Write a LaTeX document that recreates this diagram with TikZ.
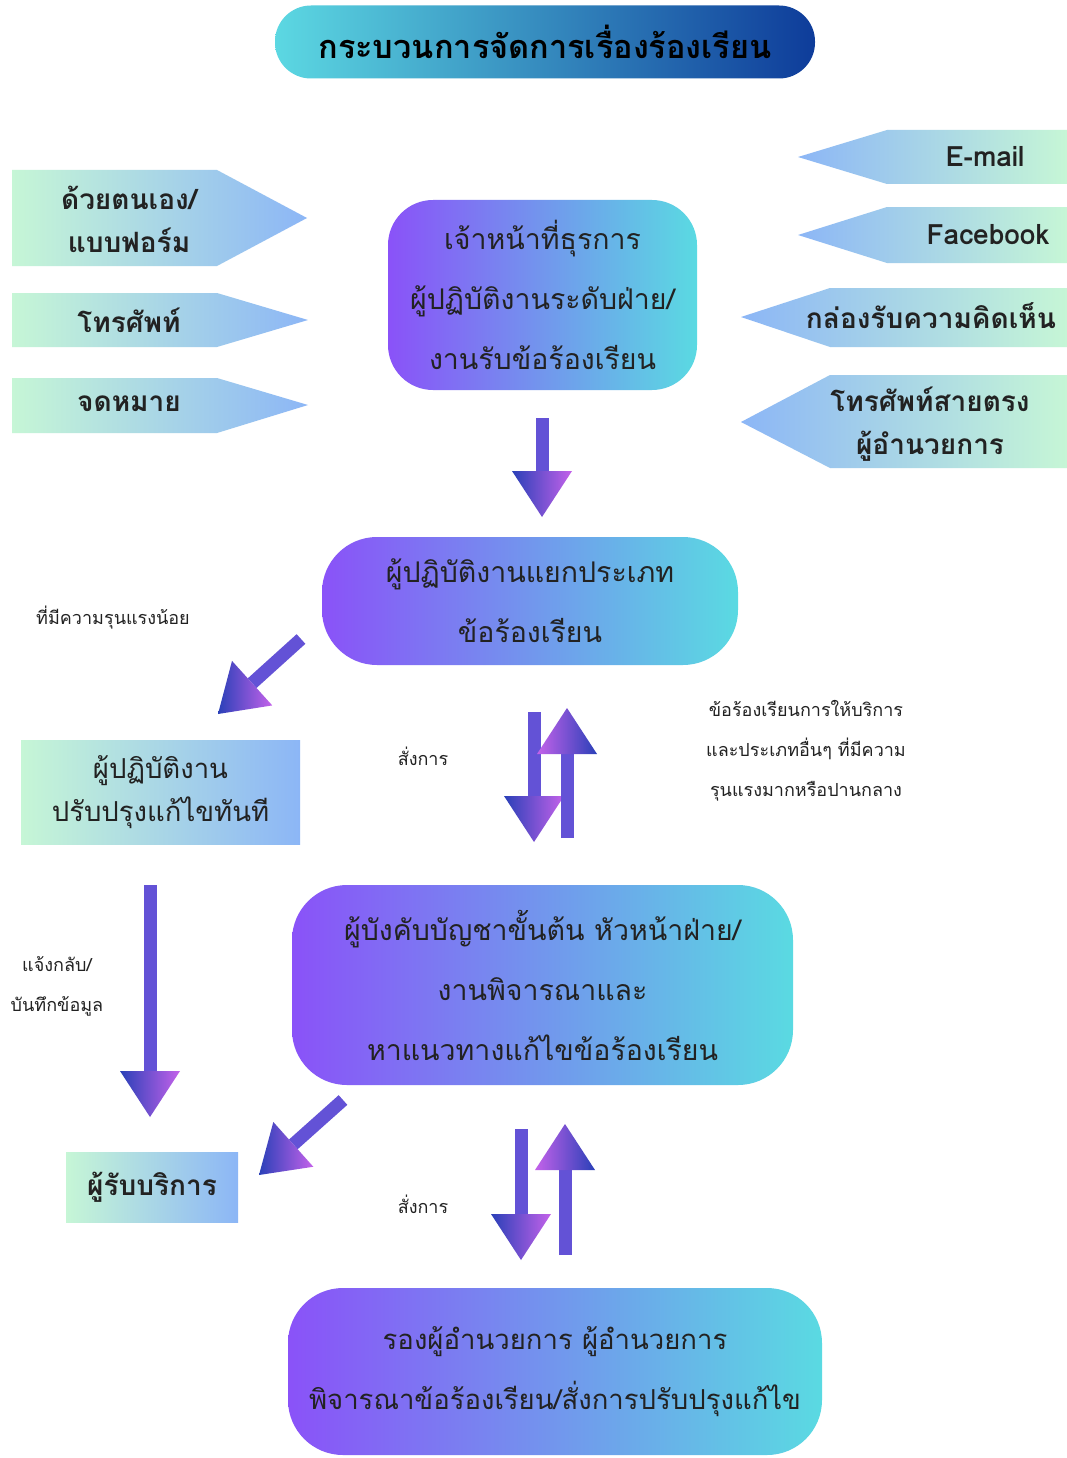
\documentclass[tikz,border=0pt]{standalone}
\usepackage{fontspec}
\usetikzlibrary{calc}
\newfontfamily\thai[Script=Thai]{Loma}
\definecolor{tagL}{HTML}{C6F6D6}
\definecolor{tagR}{HTML}{8CB6F6}
\definecolor{boxL}{HTML}{8A52F8}
\definecolor{boxR}{HTML}{5ADAE2}
\definecolor{titL}{HTML}{5CD8E2}
\definecolor{titR}{HTML}{0E3C9A}
\definecolor{shaftcol}{HTML}{6352D6}
\definecolor{headB}{HTML}{2A40B8}
\definecolor{headM}{HTML}{C462EA}
\definecolor{txt}{HTML}{222222}
\tikzset{
  roundbox/.style={rectangle, rounded corners=#1, left color=boxL, right color=boxR, inner sep=0pt, align=center, text=txt,
    font={\thai\fontsize{28.5}{60}\selectfont}},
  sqbox/.style={rectangle, left color=tagL, right color=tagR, inner sep=0pt, align=center, text=txt},
  tagtext/.style={align=center, inner sep=0pt, text=txt, font={\thai\bfseries\fontsize{28}{43}\selectfont}},
  small/.style={align=center, inner sep=0pt, text=txt, font={\thai\fontsize{18}{40}\selectfont}}
}
\newcommand\blockarrow[4]{%
  \coordinate (ba-base) at ($(#2)!46pt!(#1)$);
  \draw[line width=13pt, draw=shaftcol] (#1) -- (ba-base);
  \shade[left color=#3, right color=#4] (#2) -- ($(ba-base)!30pt!90:(#2)$) -- ($(ba-base)!30pt!-90:(#2)$) -- cycle;
}
\begin{document}
\begin{tikzpicture}[x=1pt, y=-1pt]
\useasboundingbox (0,0) rectangle (1067,1458);
\fill[white] (0,0) rectangle (1067,1458);

% title
\node[rectangle, rounded corners=36pt, left color=titL, right color=titR, minimum width=540pt, minimum height=73pt, inner sep=0pt,
  font={\thai\bfseries\fontsize{32.5}{38}\selectfont}, text=black] (title) at (545,42) {กระบวนการจัดการเรื่องร้องเรียน};

% left tags
\shade[left color=tagL, right color=tagR] (12,170) -- (217,170) -- (307,218) -- (217,266) -- (12,266) -- cycle;
\node[tagtext] (t1) at (129,219) {ด้วยตนเอง/\\แบบฟอร์ม};
\shade[left color=tagL, right color=tagR] (12,293) -- (217,293) -- (308,320) -- (217,347) -- (12,347) -- cycle;
\node[tagtext] (t2) at (129,320) {โทรศัพท์};
\shade[left color=tagL, right color=tagR] (12,378) -- (217,378) -- (308,405) -- (217,433) -- (12,433) -- cycle;
\node[tagtext] (t3) at (129,404) {จดหมาย};

% right tags
\shade[left color=tagR, right color=tagL] (1067,130) -- (887,130) -- (798,157) -- (887,184) -- (1067,184) -- cycle;
\node[tagtext] (r1) at (985,157) {E-mail};
\shade[left color=tagR, right color=tagL] (1067,207) -- (887,207) -- (798,235) -- (887,263) -- (1067,263) -- cycle;
\node[tagtext] (r2) at (988,235) {Facebook};
\shade[left color=tagR, right color=tagL] (1067,288) -- (830,288) -- (741,317) -- (830,347) -- (1067,347) -- cycle;
\node[tagtext] (r3) at (931,316) {กล่องรับความคิดเห็น};
\shade[left color=tagR, right color=tagL] (1067,375) -- (830,375) -- (741,422) -- (830,468) -- (1067,468) -- cycle;
\node[tagtext] (r4) at (930,424) {โทรศัพท์สายตรง\\ผู้อำนวยการ};

% boxes
\node[roundbox=45pt, minimum width=309pt, minimum height=190pt] (b1) at (542.5,295) {เจ้าหน้าที่ธุรการ\\ผู้ปฏิบัติงานระดับฝ่าย/\\งานรับข้อร้องเรียน};
\node[roundbox=55pt, minimum width=416pt, minimum height=128pt] (b2) at (530,601) {ผู้ปฏิบัติงานแยกประเภท\\ข้อร้องเรียน};
\node[sqbox, minimum width=279pt, minimum height=104pt, font={\thai\fontsize{27.5}{43}\selectfont}] (b3) at (160.5,792) {ผู้ปฏิบัติงาน\\ปรับปรุงแก้ไขทันที};
\node[roundbox=55pt, minimum width=501pt, minimum height=200pt] (b4) at (542.5,985) {ผู้บังคับบัญชาขั้นต้น หัวหน้าฝ่าย/\\งานพิจารณาและ\\หาแนวทางแก้ไขข้อร้องเรียน};
\node[sqbox, minimum width=172pt, minimum height=70pt, font={\thai\bfseries\fontsize{28}{43}\selectfont}] (b5) at (152,1187) {ผู้รับบริการ};
\node[roundbox=55pt, minimum width=534pt, minimum height=167pt, font={\thai\fontsize{27.5}{60}\selectfont}] (b6) at (555,1371.5) {รองผู้อำนวยการ ผู้อำนวยการ\\พิจารณาข้อร้องเรียน/สั่งการปรับปรุงแก้ไข};

% labels
\node[small] (l1) at (113,618) {ที่มีความรุนแรงน้อย};
\node[small] (l2) at (423,756) {สั่งการ};
\node[small] (l3) at (806,751) {ข้อร้องเรียนการให้บริการ\\และประเภทอื่นๆ ที่มีความ\\รุนแรงมากหรือปานกลาง};
\node[small] (l4) at (57,986) {แจ้งกลับ/\\บันทึกข้อมูล};
\node[small] (l5) at (423,1204) {สั่งการ};

% connector end points
\coordinate (a1s) at (542,418); \coordinate (a1e) at (542,517);
\coordinate (a2s) at (301,639); \coordinate (a2e) at (218,714);
\coordinate (a3s) at (534,712); \coordinate (a3e) at (534,842);
\coordinate (a4s) at (567,838); \coordinate (a4e) at (567,708);
\coordinate (a5s) at (150,885); \coordinate (a5e) at (150,1117);
\coordinate (a6s) at (343,1100); \coordinate (a6e) at (259,1175);
\coordinate (a7s) at (521,1129); \coordinate (a7e) at (521,1260);
\coordinate (a8s) at (565,1255); \coordinate (a8e) at (565,1124);

\blockarrow{a1s}{a1e}{headB}{headM}
\blockarrow{a2s}{a2e}{headB}{headM}
\blockarrow{a3s}{a3e}{headB}{headM}
\blockarrow{a4s}{a4e}{headM}{headB}
\blockarrow{a5s}{a5e}{headB}{headM}
\blockarrow{a6s}{a6e}{headB}{headM}
\blockarrow{a7s}{a7e}{headB}{headM}
\blockarrow{a8s}{a8e}{headM}{headB}
\end{tikzpicture}
\end{document}
